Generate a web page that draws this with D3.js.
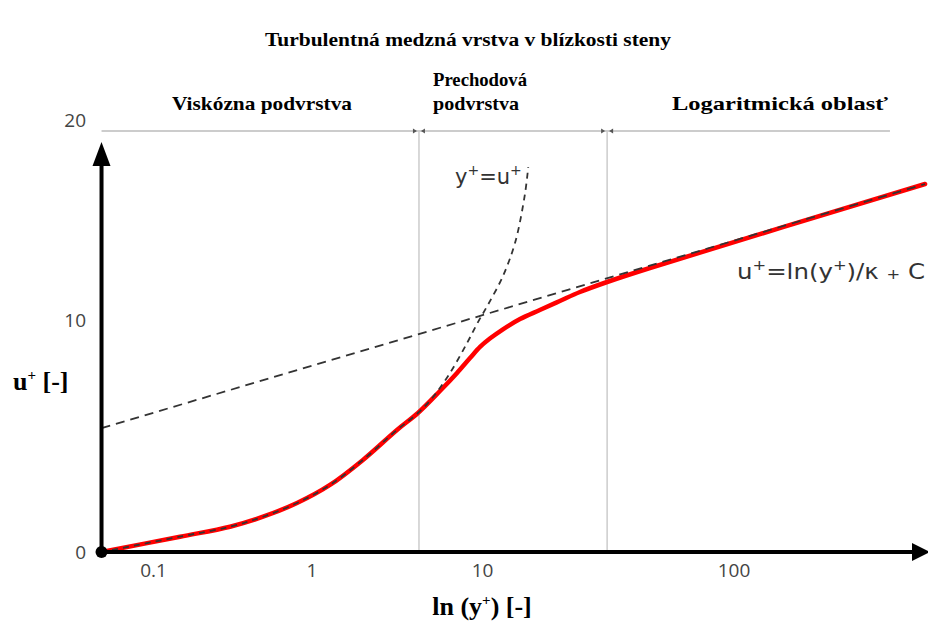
<!DOCTYPE html>
<html><head><meta charset="utf-8">
<script src="https://cdn.jsdelivr.net/npm/d3@7"></script>
<style>body{margin:0;background:#fff}</style>
</head><body><svg id="c" width="928" height="626"></svg>
<script>
// ---------- data ----------
const chartTitle = "Turbulentná medzná vrstva v blízkosti steny";
const regionNames = [["Viskózna podvrstva"], ["Prechodová", "podvrstva"], ["Logaritmická oblasť"]];
const xTickValues = [0.1, 1, 10, 100];
const xTickLabels = ["0.1", "1", "10", "100"];
const yTickValues = [0, 10, 20];
const yTickLabels = ["0", "10", "20"];
const xMin = 0.047, xMax = 600;
const regionBounds = [4.24, 31.3];          // y+ at the region boundaries
const regionSpanEnd = 417;                   // y+ where the top bracket line ends
const regionSpanLevel = 19.45;               // u+ of the top bracket line

// full velocity profile (red)
const profileY = [0.047, 0.147, 0.304, 0.491, 0.804, 1.275, 1.99, 3.15, 4.18, 5.63, 7.09, 8.45, 9.67, 10.7, 12.06, 14.1, 16.9, 20.3, 24.4, 31.3, 46.3, 575];
const profileU = [0, 0.66, 1.09, 1.52, 2.11, 2.89, 3.97, 5.26, 5.99, 6.94, 7.72, 8.36, 8.84, 9.2, 9.6, 10.05, 10.5, 10.95, 11.4, 11.9, 12.6, 16.8];

// viscous law y+ = u+ (dashed)
const viscY = [0.047, 0.147, 0.304, 0.491, 0.804, 1.275, 1.99, 3.15, 4.18, 5.13, 6.45, 8.11, 9.41, 10.5, 12.06, 13.5, 14.75, 15.2];
const viscU = [0, 0.66, 1.09, 1.52, 2.11, 2.89, 3.97, 5.26, 5.99, 6.68, 7.72, 9.0, 9.91, 10.75, 12.2, 13.9, 16.3, 17.65];

// log law u+ = ln(y+)/k + C (dashed)
const logLawY = [0.047, 575];
const logLawU = [5.34, 16.8];

// ---------- scales ----------
const svg = d3.select("#c");
const x = d3.scaleLog().domain([0.1, 1, 10, 100]).range([153.5, 312, 482.5, 734]);
const y = d3.scaleLinear().domain([0, 10, 20]).range([552, 320, 120]);
const X0 = x(xMin), Y0 = y(0);
const serif = "'Liberation Serif','Times New Roman',serif";
const sans = "'DejaVu Sans',sans-serif";

// title
svg.append("text").attr("x", 468).attr("y", 46).attr("text-anchor", "middle")
  .attr("font-family", serif).attr("font-weight", "bold").attr("font-size", 18)
  .attr("textLength", 406).attr("lengthAdjust", "spacingAndGlyphs")
  .text(chartTitle);

// region bracket line
const topY = y(regionSpanLevel);
svg.append("line").attr("x1", X0).attr("x2", x(regionSpanEnd)).attr("y1", topY).attr("y2", topY)
  .attr("stroke", "#bbb").attr("stroke-width", 1.5);
regionBounds.forEach(b => {
  const bx = x(b);
  svg.append("line").attr("x1", bx).attr("x2", bx).attr("y1", topY).attr("y2", Y0)
    .attr("stroke", "#ccc").attr("stroke-width", 1.5);
  svg.append("path").attr("d", `M${bx-6},${topY-2.5}L${bx-2},${topY}L${bx-6},${topY+2.5}Z`).attr("fill", "#555");
  svg.append("path").attr("d", `M${bx+6},${topY-2.5}L${bx+2},${topY}L${bx+6},${topY+2.5}Z`).attr("fill", "#555");
});

// region labels
const labelFmt = [
  {x: 262, anchor: "middle", ys: [110], w: [180]},
  {x: 433, anchor: "start", ys: [86, 110], w: [94, 86]},
  {x: 780, anchor: "middle", ys: [110], w: [216]}
];
regionNames.forEach((lines, i) => {
  lines.forEach((t, j) => {
    svg.append("text").attr("x", labelFmt[i].x).attr("y", labelFmt[i].ys[j])
      .attr("text-anchor", labelFmt[i].anchor)
      .attr("font-family", serif).attr("font-weight", "bold").attr("font-size", 19)
      .attr("textLength", labelFmt[i].w[j]).attr("lengthAdjust", "spacingAndGlyphs")
      .text(t);
  });
});

// curves
const line = (xs, us) => d3.line().x(d => x(d[0])).y(d => y(d[1])).curve(d3.curveCatmullRom.alpha(0.5))(xs.map((v, i) => [v, us[i]]));
svg.append("path").attr("d", line(profileY, profileU)).attr("fill", "none")
  .attr("stroke", "#ff0000").attr("stroke-width", 4.5).attr("stroke-linecap", "round");
svg.append("path").attr("d", line(viscY, viscU)).attr("fill", "none")
  .attr("stroke", "#333").attr("stroke-width", 1.8).attr("stroke-dasharray", "6,5");
svg.append("path").attr("d", line(logLawY, logLawU)).attr("fill", "none")
  .attr("stroke", "#333").attr("stroke-width", 1.8).attr("stroke-dasharray", "9,6");

// axes
svg.append("line").attr("x1", X0).attr("x2", 914).attr("y1", Y0).attr("y2", Y0)
  .attr("stroke", "#000").attr("stroke-width", 4);
svg.append("path").attr("d", `M912,${Y0-9}L930,${Y0}L912,${Y0+9}Z`).attr("fill", "#000");
svg.append("line").attr("x1", X0).attr("x2", X0).attr("y1", Y0).attr("y2", 160)
  .attr("stroke", "#000").attr("stroke-width", 4);
svg.append("path").attr("d", `M${X0-9},166L${X0},142L${X0+9},166Z`).attr("fill", "#000");
svg.append("circle").attr("cx", X0).attr("cy", Y0).attr("r", 6).attr("fill", "#000");

// tick labels
svg.selectAll(".xt").data(xTickValues).enter().append("text")
  .attr("x", d => x(d)).attr("y", 577).attr("text-anchor", "middle")
  .attr("font-family", "'Open Sans',sans-serif").attr("font-size", 19).attr("fill", "#444")
  .text((d, i) => xTickLabels[i]);
svg.selectAll(".yt").data(yTickValues).enter().append("text")
  .attr("x", 86).attr("y", d => y(d) + 7).attr("text-anchor", "end")
  .attr("font-family", "'Open Sans',sans-serif").attr("font-size", 19).attr("fill", "#444")
  .text((d, i) => yTickLabels[i]);

// axis titles
const xt = svg.append("text").attr("x", 482).attr("y", 615).attr("text-anchor", "middle")
  .attr("font-family", serif).attr("font-weight", "bold").attr("font-size", 26);
xt.append("tspan").text("ln (y");
xt.append("tspan").attr("font-size", 15).attr("dy", -10).text("+");
xt.append("tspan").attr("dy", 10).text(") [-]");
const yt = svg.append("text").attr("x", 13).attr("y", 390)
  .attr("font-family", serif).attr("font-weight", "bold").attr("font-size", 26);
yt.append("tspan").text("u");
yt.append("tspan").attr("font-size", 15).attr("dy", -10).text("+");
yt.append("tspan").attr("dy", 10).text(" [-]");

// annotations
const a1 = svg.append("text").attr("x", 455).attr("y", 184)
  .attr("font-family", sans).attr("font-size", 21).attr("fill", "#333");
a1.append("tspan").text("y");
a1.append("tspan").attr("font-size", 14).attr("dy", -9).text("+");
a1.append("tspan").attr("dy", 9).text("=u");
a1.append("tspan").attr("font-size", 14).attr("dy", -9).text("+");
const a2 = svg.append("text").attr("x", 737).attr("y", 279)
  .attr("font-family", sans).attr("font-size", 21).attr("fill", "#333")
  .attr("textLength", 188).attr("lengthAdjust", "spacingAndGlyphs");
a2.append("tspan").text("u");
a2.append("tspan").attr("font-size", 14).attr("dy", -9).text("+");
a2.append("tspan").attr("dy", 9).text("=ln(y");
a2.append("tspan").attr("font-size", 14).attr("dy", -9).text("+");
a2.append("tspan").attr("dy", 9).text(")/κ ");
a2.append("tspan").attr("font-size", 14).text("+");
a2.append("tspan").text(" C");
</script></body></html>
